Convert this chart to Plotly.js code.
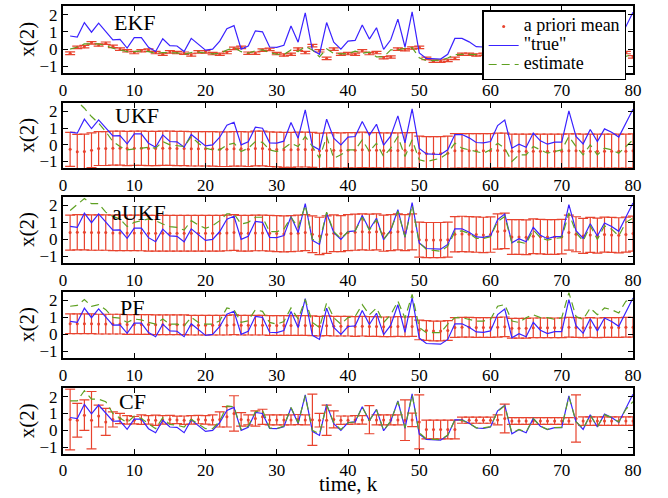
<!DOCTYPE html>
<html><head><meta charset="utf-8">
<script src="https://cdn.plot.ly/plotly-3.0.1.min.js"></script>
<style>html,body{margin:0;padding:0;background:#fff}</style>
</head><body><div id="chart" style="width:668px;height:498px"></div>
<script>
const steps = [1,2,3,4,5,6,7,8,9,10,11,12,13,14,15,16,17,18,19,20,21,22,23,24,25,26,27,28,29,30,31,32,33,34,35,36,37,38,39,40,41,42,43,44,45,46,47,48,49,50,51,52,53,54,55,56,57,58,59,60,61,62,63,64,65,66,67,68,69,70,71,72,73,74,75,76,77,78,79,80];
const xTicks = [0,10,20,30,40,50,60,70,80];
const yTicks = [-1,0,1,2];
const filterNames = ["EKF","UKF","aUKF","PF","CF"];
const legendNames = ["a priori mean","\"true\"","estimate"];
const yTitle = "x(2)";
const xTitle = "time, k";

const trueVals = [0.76,0.70,1.54,0.98,1.50,1.04,0.54,0.56,0.06,0.66,
0.66,0.10,-0.14,0.60,0.20,0.18,-0.14,0.62,0.26,-0.06,
0.00,0.46,1.18,1.36,0.00,0.18,1.06,1.00,0.12,0.10,
0.22,1.34,0.40,2.10,-0.06,-0.30,1.54,0.40,0.00,0.46,
0.50,1.40,0.58,1.24,-0.02,0.54,1.74,0.12,2.16,-0.22,
-0.54,-0.54,-0.58,-0.30,0.62,0.62,0.42,0.14,0.12,0.20,
1.16,1.49,-0.20,0.04,-0.14,0.71,0.24,0.04,0.16,0.16,
2.04,0.51,0.06,0.92,0.20,0.96,0.76,0.47,1.33,2.14];

const ekfMean = [-0.24,0.10,0.14,0.36,0.24,0.34,0.16,0.00,-0.10,-0.20,
-0.10,-0.06,-0.20,-0.30,-0.16,-0.20,-0.24,-0.34,-0.16,-0.16,
-0.26,-0.30,-0.20,0.04,0.10,-0.24,-0.24,-0.06,-0.02,-0.26,
-0.34,-0.30,0.00,-0.20,0.20,-0.10,-0.54,0.00,-0.30,-0.26,
-0.30,-0.10,-0.26,-0.20,-0.50,-0.46,0.00,-0.04,0.06,0.10,
-0.54,-0.70,-0.70,-0.66,-0.54,-0.30,-0.30,-0.34,-0.30,-0.35,
-0.25,-0.20,-0.40,-0.35,-0.30,-0.20,-0.30,-0.35,-0.30,-0.30,
-0.10,-0.30,-0.40,-0.25,-0.35,-0.25,-0.30,-0.30,-0.20,-0.45];
const ekfErr = [0.08,0.07,0.07,0.07,0.07,0.07,0.07,0.07,0.07,0.07,
0.07,0.07,0.07,0.07,0.07,0.07,0.07,0.07,0.07,0.07,
0.07,0.07,0.07,0.07,0.07,0.07,0.07,0.07,0.07,0.07,
0.07,0.07,0.07,0.07,0.07,0.07,0.07,0.07,0.07,0.07,
0.07,0.07,0.07,0.07,0.07,0.07,0.07,0.07,0.07,0.07,
0.07,0.07,0.07,0.07,0.07,0.07,0.07,0.07,0.07,0.07,
0.07,0.07,0.07,0.07,0.07,0.07,0.07,0.07,0.07,0.07,
0.07,0.07,0.07,0.07,0.07,0.07,0.07,0.07,0.07,0.07];
const ekfEst = [0.00,0.12,0.30,0.30,0.30,0.20,0.05,-0.05,-0.15,-0.15,
-0.10,-0.15,-0.25,-0.20,-0.20,-0.22,-0.30,-0.20,-0.18,-0.22,
-0.28,-0.25,-0.05,0.08,-0.15,-0.24,-0.10,-0.04,-0.20,-0.30,
-0.32,-0.05,-0.15,0.15,-0.05,-0.45,0.02,-0.25,-0.28,-0.28,
-0.12,-0.24,-0.18,-0.45,-0.45,-0.05,-0.05,0.05,0.08,-0.50,
-0.68,-0.68,-0.64,-0.52,-0.32,-0.30,-0.32,-0.30,-0.33,-0.26,
-0.22,-0.38,-0.35,-0.30,-0.22,-0.28,-0.33,-0.30,-0.30,-0.12,
-0.28,-0.38,-0.26,-0.33,-0.26,-0.30,-0.30,-0.22,-0.42,-0.30];

const ukfMean = [-0.27,-0.42,-0.40,-0.32,-0.22,-0.22,-0.20,-0.20,-0.22,-0.20,
-0.20,-0.22,-0.22,-0.20,-0.20,-0.22,-0.22,-0.24,-0.24,-0.24,
-0.24,-0.26,-0.26,-0.24,-0.24,-0.26,-0.22,-0.22,-0.26,-0.28,
-0.30,-0.30,-0.28,-0.28,-0.30,-0.36,-0.34,-0.32,-0.34,-0.32,
-0.32,-0.30,-0.32,-0.32,-0.34,-0.34,-0.34,-0.32,-0.32,-0.50,
-0.52,-0.52,-0.52,-0.50,-0.36,-0.36,-0.36,-0.36,-0.36,-0.36,
-0.34,-0.34,-0.38,-0.38,-0.38,-0.38,-0.38,-0.38,-0.38,-0.38,
-0.36,-0.36,-0.38,-0.38,-0.38,-0.38,-0.38,-0.38,-0.38,-0.36];
const ukfErr = [1.02,1.05,1.05,1.04,1.02,1.02,1.02,1.02,1.03,1.03,
1.03,1.03,1.03,1.03,1.03,1.03,1.03,1.03,1.03,1.03,
1.04,1.04,1.04,1.04,1.04,1.04,1.04,1.04,1.04,1.04,
1.05,1.05,1.05,1.05,1.05,1.06,1.06,1.06,1.06,1.06,
1.06,1.06,1.06,1.06,1.06,1.06,1.06,1.06,1.06,1.02,
1.02,1.02,1.02,1.02,1.04,1.04,1.04,1.04,1.04,1.04,
1.04,1.04,1.02,1.02,1.02,1.02,1.02,1.02,1.02,1.02,
1.02,1.02,1.02,1.02,1.02,1.02,1.02,1.02,1.02,1.02];
const ukfEst = [2.80,2.60,2.20,1.70,1.30,0.80,0.20,-0.10,-0.30,-0.25,
-0.20,-0.15,-0.20,0.20,0.00,-0.05,-0.10,0.50,0.10,-0.20,
-0.30,-0.30,0.00,0.10,-0.40,-0.20,0.20,0.15,-0.30,-0.40,
-0.20,0.10,-0.10,0.50,-0.10,-0.80,0.50,-0.80,-0.60,-0.30,
-0.30,0.30,-0.40,0.10,-0.70,-0.20,0.50,-0.70,0.30,-0.90,
-1.00,-0.90,-0.80,-0.50,0.10,-0.20,-0.30,-0.40,-0.50,-0.30,
0.10,-0.20,-1.00,-0.60,-0.60,-0.10,-0.30,-0.50,-0.40,-0.30,
0.50,-0.10,-0.60,0.00,-0.60,-0.20,-0.30,-0.50,-0.10,0.30];

const aukfMean = [0.40,0.42,0.42,0.40,0.40,0.40,0.38,0.38,0.38,0.38,
0.38,0.36,0.36,0.36,0.36,0.36,0.36,0.36,0.36,0.36,
0.36,0.36,0.38,0.40,0.36,0.36,0.38,0.38,0.36,0.34,
0.32,0.34,0.36,0.40,0.30,0.20,0.28,0.36,0.34,0.40,
0.42,0.44,0.42,0.44,0.36,0.40,0.44,0.40,0.44,-0.02,
-0.04,-0.04,-0.04,-0.02,0.30,0.32,0.30,0.28,0.26,0.28,
0.46,0.50,0.14,0.14,0.12,0.18,0.16,0.14,0.14,0.16,
0.40,0.30,0.20,0.26,0.22,0.28,0.26,0.24,0.28,0.34];
const aukfErr = [1.03,1.04,1.04,1.04,1.04,1.04,1.04,1.04,1.04,1.04,
1.05,1.05,1.05,1.05,1.05,1.05,1.05,1.05,1.05,1.05,
1.05,1.05,1.05,1.05,1.05,1.05,1.05,1.05,1.05,1.06,
1.06,1.06,1.06,1.06,1.08,1.10,1.10,1.08,1.06,1.06,
1.06,1.06,1.06,1.06,1.06,1.06,1.06,1.06,1.06,1.03,
1.03,1.03,1.03,1.03,1.04,1.04,1.04,1.04,1.04,1.04,
1.04,1.04,1.02,1.02,1.02,1.02,1.02,1.02,1.02,1.02,
1.03,1.03,1.03,1.03,1.03,1.03,1.03,1.03,1.03,1.03];
const aukfEst = [1.70,2.05,2.40,2.10,2.10,1.60,1.35,1.20,0.75,1.00,
1.10,1.20,1.10,0.90,0.75,0.70,0.55,1.10,0.85,0.65,
0.80,1.10,1.50,1.50,0.90,1.00,1.30,1.30,0.45,0.45,
0.60,1.30,0.70,2.00,0.00,-0.15,1.60,0.45,0.05,0.45,
0.50,1.30,0.55,1.15,0.00,0.55,1.65,0.15,2.00,-0.20,
-0.60,-0.65,-0.70,-0.40,0.45,0.50,0.35,0.05,0.05,0.15,
1.05,1.35,-0.20,-0.15,-0.25,0.55,0.10,-0.05,0.05,0.10,
1.55,0.40,-0.10,0.80,0.00,0.80,0.60,0.20,1.00,1.25];

const pfMean = [0.62,0.62,0.62,0.62,0.60,0.60,0.60,0.60,0.58,0.58,
0.58,0.58,0.56,0.56,0.56,0.56,0.56,0.54,0.54,0.54,
0.54,0.54,0.54,0.56,0.54,0.54,0.54,0.54,0.52,0.52,
0.52,0.52,0.52,0.52,0.50,0.48,0.50,0.48,0.48,0.48,
0.46,0.48,0.46,0.46,0.44,0.44,0.46,0.44,0.46,0.26,
0.22,0.20,0.20,0.22,0.40,0.42,0.42,0.40,0.40,0.40,
0.42,0.44,0.36,0.36,0.36,0.38,0.38,0.38,0.38,0.38,
0.42,0.40,0.38,0.40,0.38,0.40,0.40,0.40,0.42,0.42];
const pfErr = [0.58,0.58,0.58,0.58,0.58,0.58,0.58,0.58,0.58,0.58,
0.58,0.58,0.58,0.58,0.58,0.58,0.58,0.58,0.58,0.58,
0.58,0.58,0.58,0.58,0.58,0.58,0.58,0.58,0.58,0.58,
0.58,0.58,0.58,0.58,0.58,0.58,0.58,0.58,0.58,0.58,
0.58,0.58,0.58,0.58,0.58,0.58,0.58,0.58,0.58,0.58,
0.58,0.58,0.58,0.58,0.58,0.58,0.58,0.58,0.58,0.58,
0.58,0.58,0.58,0.58,0.58,0.58,0.58,0.58,0.58,0.58,
0.58,0.58,0.58,0.58,0.58,0.58,0.58,0.58,0.58,0.58];
const pfEst = [1.65,1.70,2.05,1.65,1.75,1.45,1.00,0.95,0.70,0.90,
0.85,0.70,0.60,0.90,0.60,0.60,0.50,1.00,0.70,0.60,
0.60,0.80,1.55,1.45,0.70,0.80,1.45,1.35,0.70,0.60,
0.75,1.55,0.90,2.05,0.70,0.40,1.85,0.98,0.60,0.98,
1.05,1.75,1.15,1.55,0.70,1.15,1.95,0.95,2.35,0.40,
0.10,0.10,0.10,0.60,0.98,0.98,0.88,0.78,0.78,0.88,
1.65,1.75,0.78,0.70,0.98,1.15,0.98,0.98,0.88,0.98,
2.45,1.05,0.88,1.55,1.15,1.55,1.45,1.25,1.95,2.05];

const cfMean = [0.64,0.60,0.90,0.60,0.85,0.50,0.65,0.70,0.62,0.60,
0.64,0.62,0.60,0.62,0.64,0.62,0.60,0.62,0.64,0.62,
0.62,0.65,0.80,1.00,0.65,0.62,0.70,0.80,0.62,0.62,
0.62,0.62,0.64,0.62,0.63,0.60,0.60,0.65,0.60,0.60,
0.62,0.62,0.63,0.62,0.62,0.62,0.62,0.60,0.62,0.50,
0.05,0.05,0.05,0.05,0.05,0.60,0.60,0.60,0.60,0.60,
0.62,0.70,0.55,0.55,0.55,0.55,0.55,0.55,0.55,0.55,
0.55,0.70,0.55,0.55,0.55,0.55,0.55,0.55,0.55,0.55];
const cfErr = [1.80,1.00,0.90,1.70,0.65,0.80,0.45,0.30,0.25,0.22,
0.28,0.25,0.30,0.25,0.25,0.22,0.25,0.25,0.25,0.25,
0.30,0.45,0.60,1.05,0.40,0.30,0.45,0.45,0.30,0.30,
0.30,0.30,0.30,0.30,1.52,0.40,0.90,0.50,0.25,0.25,
0.25,0.25,0.83,0.30,0.30,0.30,0.30,1.20,0.40,1.60,
0.55,0.55,0.55,0.55,0.55,0.18,0.18,0.18,0.18,0.18,
0.30,0.85,0.20,0.20,0.20,0.20,0.20,0.20,0.20,0.20,
0.20,1.40,0.25,0.25,0.25,0.25,0.25,0.25,0.25,0.25];
const cfEst = [1.75,1.75,2.35,1.85,1.85,1.70,1.00,0.75,0.45,0.85,
0.70,0.40,0.10,0.75,0.35,0.30,0.20,0.65,0.40,0.10,
0.10,0.55,1.45,1.40,0.05,0.25,1.10,1.20,0.15,0.10,
0.25,1.35,0.45,2.05,0.00,-0.20,1.50,0.45,0.05,0.45,
0.50,1.38,0.58,1.22,0.00,0.55,1.70,0.15,2.10,-0.15,
-0.50,-0.52,-0.55,-0.28,0.62,0.60,0.42,0.15,0.15,0.22,
1.12,1.45,-0.15,0.05,-0.10,0.70,0.25,0.06,0.16,0.18,
2.00,0.52,0.10,0.90,0.22,0.92,0.76,0.50,1.25,1.70];

const panels = [
  {mean: ekfMean, err: ekfErr, est: ekfEst},
  {mean: ukfMean, err: ukfErr, est: ukfEst},
  {mean: aukfMean, err: aukfErr, est: aukfEst},
  {mean: pfMean, err: pfErr, est: pfEst},
  {mean: cfMean, err: cfErr, est: cfEst}
];

const SERIF = 'Liberation Serif, Times New Roman, serif';
const RED = '#e8432e', BLUE = '#3a22ff', GREEN = '#5ea021';
const domains = [[0.850,1.0],[0.638,0.783],[0.426,0.574],[0.214,0.362],[0,0.147]];
const labelPos = [[0.086,0.75],[0.088,0.815],[0.082,0.76],[0.096,0.77],[0.095,0.79]];

const traces = [];
const layout = {
  width: 668, height: 498,
  margin: {l: 63, r: 35, t: 6, b: 44},
  paper_bgcolor: '#fff', plot_bgcolor: '#fff',
  font: {family: SERIF, color: '#000'},
  showlegend: true,
  legend: {x: 0.988, xanchor: 'right', y: 0.99, yanchor: 'top', bgcolor: '#fff',
           bordercolor: '#000', borderwidth: 1.5, font: {family: SERIF, size: 12, color: '#000'},
           tracegroupgap: 0, itemwidth: 30},
  annotations: [
    {text: xTitle, xref: 'paper', yref: 'paper', x: 0.5, y: -0.097, xanchor: 'center', yanchor: 'bottom',
     showarrow: false, borderpad: 0, font: {family: SERIF, size: 21, color: '#000'}}
  ]
};
const big = s => '<span style="font-size:18px">' + s + '</span>';

panels.forEach((p, i) => {
  const n = i + 1;
  const xs = n === 1 ? 'x' : 'x' + n, ys = n === 1 ? 'y' : 'y' + n;
  traces.push({x: steps, y: p.mean, xaxis: xs, yaxis: ys, type: 'scatter', mode: 'markers',
    name: big(legendNames[0]), showlegend: i === 0, legendrank: 1,
    marker: {color: RED, size: 3},
    error_y: {type: 'data', array: p.err, visible: true, color: RED, thickness: 1.2, width: 5}});
  traces.push({x: steps, y: trueVals, xaxis: xs, yaxis: ys, type: 'scatter', mode: 'lines',
    name: big(legendNames[1]), showlegend: i === 0, legendrank: 2,
    line: {color: BLUE, width: 1.2}});
  traces.push({x: steps, y: p.est, xaxis: xs, yaxis: ys, type: 'scatter', mode: 'lines',
    name: big(legendNames[2]), showlegend: i === 0, legendrank: 3,
    line: {color: GREEN, width: 1.2, dash: '8px,5px'}});

  const xa = {domain: [0, 1], range: [0, 80], anchor: ys, tickvals: xTicks, ticks: 'inside', ticklen: 5,
    tickcolor: '#000', showline: true, mirror: 'ticks', linecolor: '#000', linewidth: 2,
    showgrid: false, zeroline: false, tickfont: {family: SERIF, size: 17, color: '#000'}};
  const ya = {domain: domains[i], range: [-1.4, 2.5], anchor: xs, tickvals: yTicks, ticks: 'inside', ticklen: 5,
    tickcolor: '#000', showline: true, mirror: 'ticks', linecolor: '#000', linewidth: 2,
    showgrid: false, zeroline: false, tickfont: {family: SERIF, size: 17, color: '#000'}};
  layout[n === 1 ? 'xaxis' : 'xaxis' + n] = xa;
  layout[n === 1 ? 'yaxis' : 'yaxis' + n] = ya;
  layout.annotations.push({text: filterNames[i], xref: xs + ' domain', yref: ys + ' domain',
    x: labelPos[i][0], y: labelPos[i][1], xanchor: 'left', yanchor: 'middle', showarrow: false,
    font: {family: SERIF, size: 22, color: '#000'}});
  layout.annotations.push({text: yTitle, xref: 'paper', yref: ys + ' domain', x: -0.063, y: 0.5,
    xanchor: 'center', yanchor: 'middle', textangle: -90, showarrow: false,
    font: {family: SERIF, size: 21, color: '#000'}});
});

Plotly.newPlot('chart', traces, layout, {displayModeBar: false, staticPlot: true});
</script></body></html>
